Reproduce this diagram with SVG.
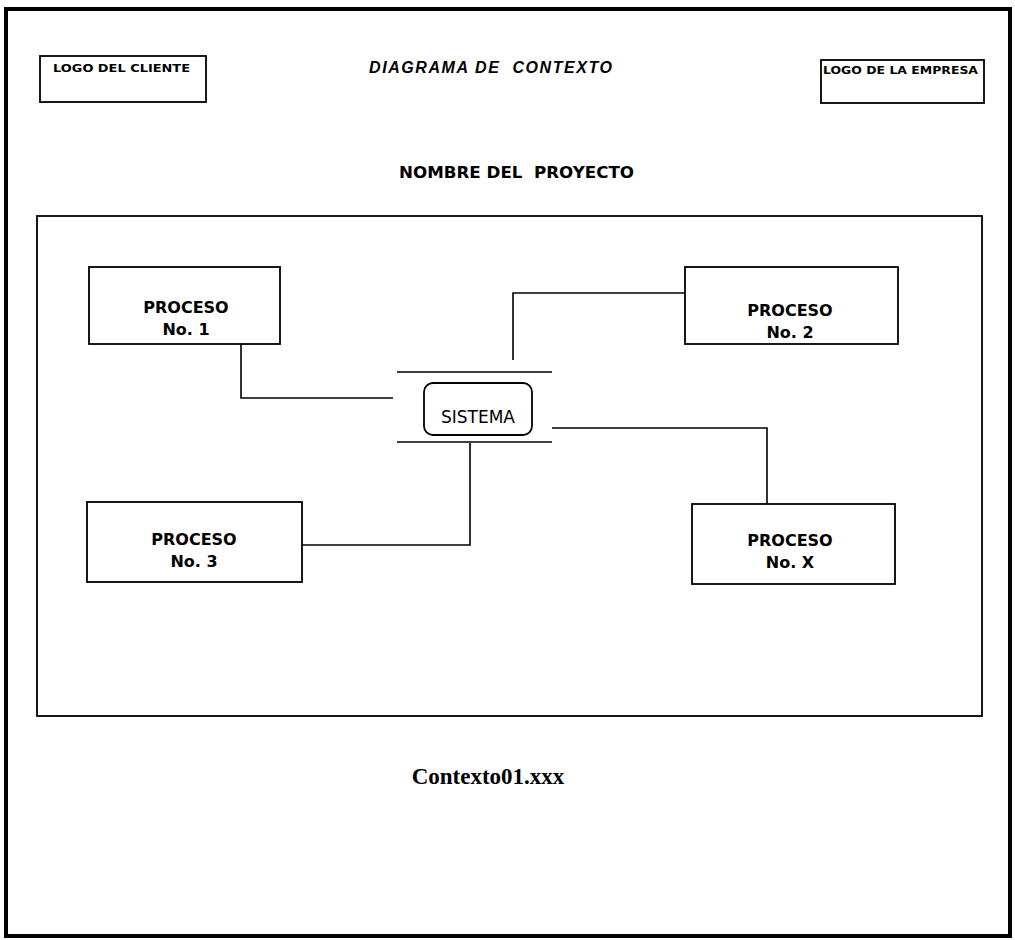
<svg xmlns="http://www.w3.org/2000/svg" width="1015" height="940" viewBox="0 0 1015 940">
<style>
.frame{fill:none;stroke:#000;stroke-width:4}
.box{fill:#fff;stroke:#000;stroke-width:1.8}
.conn{fill:none;stroke:#000;stroke-width:1.6}
.b{font-family:"DejaVu Sans","Liberation Sans",sans-serif;font-weight:bold;fill:#000}
.r{font-family:"DejaVu Sans","Liberation Sans",sans-serif;fill:#000}
.pt{font-size:16px;text-anchor:middle}
</style>
<rect width="1015" height="940" fill="#fff"/>
<rect class="frame" x="6" y="9" width="1004" height="927"/>
<g id="header">
<g id="logo-cliente">
<rect class="box" x="40" y="56" width="166" height="46"/>
<text class="b" x="53" y="72" font-size="11" textLength="137" lengthAdjust="spacingAndGlyphs">LOGO DEL CLIENTE</text>
</g>
<text id="titulo" x="369" y="73" font-family="Liberation Sans, Arial, sans-serif" font-style="italic" font-weight="bold" font-size="16" textLength="243" xml:space="preserve">DIAGRAMA DE  CONTEXTO</text>
<g id="logo-empresa">
<rect class="box" x="821" y="60" width="163" height="43"/>
<text class="b" x="823" y="74" font-size="11" textLength="155" lengthAdjust="spacingAndGlyphs">LOGO DE LA EMPRESA</text>
</g>
<text id="proyecto" class="b" x="399" y="178" font-size="15" textLength="235" lengthAdjust="spacingAndGlyphs" xml:space="preserve">NOMBRE DEL  PROYECTO</text>
</g>
<rect id="area" class="box" x="37" y="216" width="945" height="500" stroke-width="1.5"/>
<g id="connectors">
<polyline class="conn" points="241,344 241,398 393,398"/>
<polyline class="conn" points="513,360 513,293 685,293"/>
<polyline class="conn" points="552,428 767,428 767,504"/>
<polyline class="conn" points="470,443 470,545 302,545"/>
</g>
<g id="proceso1">
<rect class="box" x="89" y="267" width="191" height="77"/>
<text class="b pt" x="186" y="313">PROCESO</text>
<text class="b pt" x="186" y="335">No. 1</text>
</g>
<g id="proceso2">
<rect class="box" x="685" y="267" width="213" height="77"/>
<text class="b pt" x="790" y="316">PROCESO</text>
<text class="b pt" x="790" y="338">No. 2</text>
</g>
<g id="proceso3">
<rect class="box" x="87" y="502" width="215" height="80"/>
<text class="b pt" x="194" y="545">PROCESO</text>
<text class="b pt" x="194" y="567">No. 3</text>
</g>
<g id="procesoX">
<rect class="box" x="692" y="504" width="203" height="80"/>
<text class="b pt" x="790" y="546">PROCESO</text>
<text class="b pt" x="790" y="568">No. X</text>
</g>
<g id="sistema">
<line class="conn" x1="397" y1="372" x2="552" y2="372"/>
<line class="conn" x1="397" y1="442" x2="552" y2="442"/>
<rect class="box" x="424" y="383" width="108" height="52" rx="9" stroke-width="1.4"/>
<text class="r" x="478" y="423" font-size="17" text-anchor="middle">SISTEMA</text>
</g>
<text id="archivo" x="488" y="784" font-family="Liberation Serif, Times New Roman, serif" font-weight="bold" font-size="23" text-anchor="middle">Contexto01.xxx</text>
</svg>
